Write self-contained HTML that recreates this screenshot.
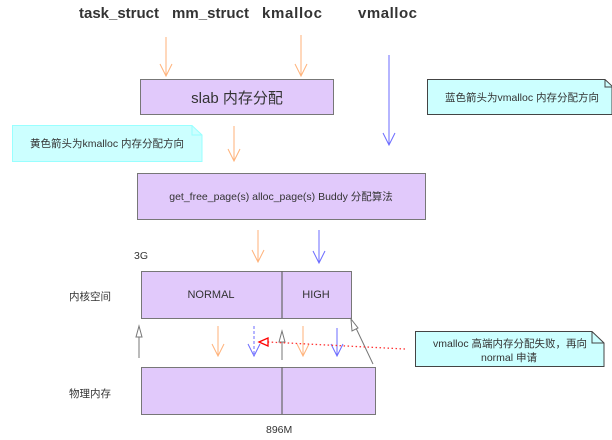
<!DOCTYPE html>
<html><head><meta charset="utf-8"><style>
html,body{margin:0;padding:0;background:#fff;width:612px;height:440px;overflow:hidden}
svg text{font-family:"Liberation Sans","Noto Sans CJK SC",sans-serif;fill:#333}
</style></head><body>
<svg width="612" height="440" viewBox="0 0 612 440" xmlns="http://www.w3.org/2000/svg">
<defs>
<marker id="o" markerWidth="12" markerHeight="12" refX="6" refY="11" orient="auto" markerUnits="userSpaceOnUse"><path d="M1,1 L6,11 L11,1" fill="none" stroke="#ffb27a" stroke-width="1"/></marker>
</defs>
<g font-weight="bold" font-size="15">
<text x="79" y="18" textLength="80">task_struct</text>
<text x="172" y="18" textLength="77">mm_struct</text>
<text x="262" y="18" textLength="60">kmalloc</text>
<text x="358" y="18" textLength="59">vmalloc</text>
</g>
<g stroke-width="1" fill="none">
<!-- orange arrows -->
<g stroke="#ffb27a">
<path d="M166 37V76M160 64L166 76L172 64"/>
<path d="M301 35V76M295 64L301 76L307 64"/>
<path d="M234 126V161M228 149L234 161L240 149"/>
<path d="M258 230V262M252 250L258 262L264 250"/>
<path d="M218 326V356M212 344L218 356L224 344"/>
<path d="M303 326V356M297 344L303 356L309 344"/>
</g>
<g stroke="#6b6bff">
<path d="M389 55V145M383 133L389 145L395 133"/>
<path d="M319 230V263M313 251L319 263L325 251"/>
<path d="M337 328V356M331 344L337 356L343 344"/>
<path d="M254 326V356" stroke-dasharray="3,2"/><path d="M248 344L254 356L260 344"/>
</g>
</g>
<!-- boxes -->
<g fill="#e1c9fb" stroke="#777" stroke-width="1">
<rect x="140.5" y="79.5" width="193" height="35"/>
<rect x="137.5" y="173.5" width="288" height="46"/>
<rect x="141.5" y="271.5" width="210" height="47"/>
<rect x="141.5" y="367.5" width="234" height="47"/>
</g>
<path d="M282 271V318M282 367V414" stroke="#666" stroke-width="1.2"/>
<text x="237" y="103" font-size="15" text-anchor="middle">slab 内存分配</text>
<text x="281" y="200" font-size="10.5" text-anchor="middle">get_free_page(s)  alloc_page(s) Buddy 分配算法</text>
<text x="211" y="298" font-size="11" text-anchor="middle">NORMAL</text>
<text x="316" y="298" font-size="11" text-anchor="middle">HIGH</text>
<text x="134" y="259" font-size="10.5">3G</text>
<text x="69" y="300" font-size="10.5">内核空间</text>
<text x="69" y="397" font-size="10.5">物理内存</text>
<text x="266" y="433" font-size="10.5">896M</text>
<!-- grey up arrows -->
<g stroke="#777" fill="#fff">
<path d="M139 358V336" /><path d="M136 337L139 326L142 337Z"/>
<path d="M282 360V341"/><path d="M279 342L282 331L285 342Z"/>
<path d="M373 364L355 326"/><path d="M352 331L351 319L358 328Z"/>
</g>
<!-- red dotted -->
<path d="M405 349L268 342" stroke="#f33" stroke-width="1.3" stroke-dasharray="1.5,2.5" fill="none"/>
<path d="M259 342L268 338L268 346Z" fill="#fff" stroke="#f00" stroke-width="1.3"/>
<!-- notes -->
<g stroke-width="1">
<path d="M12.5 125.5H192L202 135V161.5H12.5Z" fill="#ccffff" stroke="#9ff"/>
<path d="M192 125.5V135H202" fill="none" stroke="#9ff"/>
<path d="M427.5 79.5H605L612 86V114.5H427.5Z" fill="#ccffff" stroke="#444"/>
<path d="M605 79.5V87H612" fill="none" stroke="#444"/>
<path d="M415.5 331.5H592L604 343V366.5H415.5Z" fill="#ccffff" stroke="#444"/>
<path d="M592 331.5V343H604" fill="none" stroke="#444"/>
</g>
<text x="30" y="147" font-size="10.5">黄色箭头为kmalloc 内存分配方向</text>
<text x="445" y="101" font-size="10.5">蓝色箭头为vmalloc 内存分配方向</text>
<text x="433" y="347" font-size="10.5">vmalloc 高端内存分配失败，再向</text>
<text x="481" y="361" font-size="10.5">normal 申请</text>
</svg>
</body></html>
